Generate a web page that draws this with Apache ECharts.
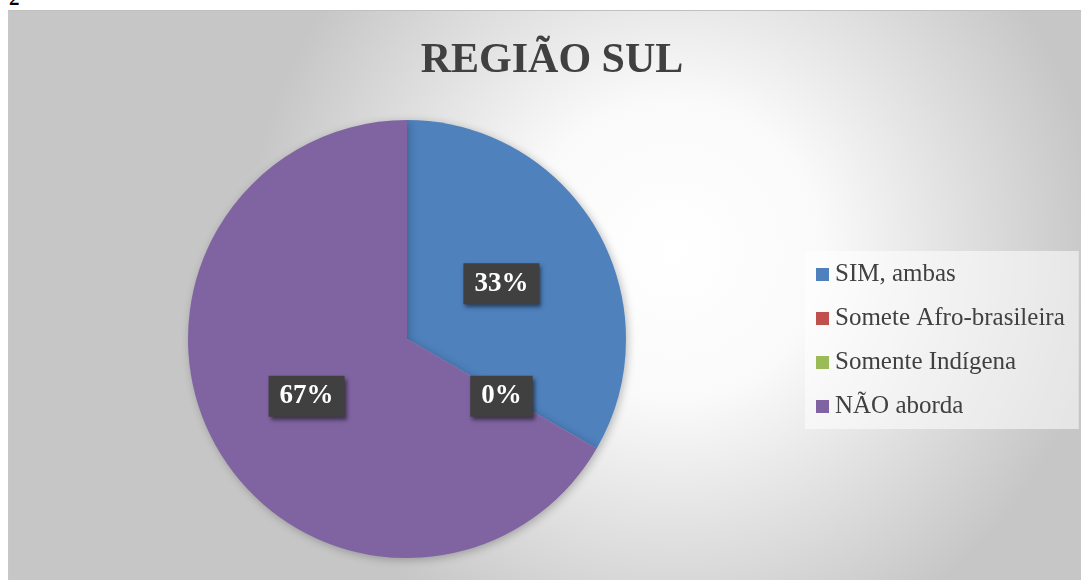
<!DOCTYPE html>
<html><head><meta charset="utf-8">
<script src="https://cdn.jsdelivr.net/npm/echarts@6/dist/echarts.min.js"></script>
<style>
html,body{margin:0;padding:0;background:#fff;width:1081px;height:580px;overflow:hidden;}
#frag{position:absolute;left:9px;top:-14px;font:bold 21px "Liberation Serif",serif;color:#000;}
#c{position:absolute;left:8px;top:10px;width:1073px;height:570px;border-top:1px solid #c0c0c0;border-left:1px solid #c8c8c8;box-sizing:border-box;}
</style></head>
<body>
<div id="frag">2</div>
<div id="c"></div>
<script>
const titleText = 'REGIÃO SUL';
const categories = ['SIM, ambas', 'Somete Afro-brasileira', 'Somente Indígena', 'NÃO aborda'];
const values = [1, 0, 0, 2];
const colors = ['#4F81BD', '#C0504D', '#9BBB59', '#8064A2'];

const chart = echarts.init(document.getElementById('c'));
chart.setOption({
  backgroundColor: {
    type: 'radial', x: 0.62, y: 0.42, r: 0.75,
    colorStops: [{offset: 0, color: '#ffffff'}, {offset: 0.35, color: '#fafafa'}, {offset: 1, color: '#c6c6c6'}]
  },
  color: colors,
  title: {
    text: titleText, left: 538, top: 24, textAlign: 'center',
    textStyle: {fontFamily: '"Liberation Serif", serif', fontWeight: 'bold', fontSize: 42, color: '#404040'}
  },
  legend: {
    orient: 'vertical', left: 796, top: 240, width: 280,
    data: categories, icon: 'rect', itemWidth: 13, itemHeight: 13, itemGap: 19,
    backgroundColor: 'rgba(255,255,255,0.55)', padding: [11, 14, 10, 11],
    textStyle: {fontFamily: '"Liberation Serif", serif', fontSize: 25, color: '#404040', padding: [0, 0, 0, 1]}
  },
  series: [{
    type: 'pie', center: [398, 328], radius: 219, startAngle: 90, clockwise: true,
    data: categories.map((n, i) => ({name: n, value: values[i]})),
    avoidLabelOverlap: false, minShowLabelAngle: 0,
    itemStyle: {shadowBlur: 8, shadowColor: 'rgba(0,0,0,0.25)', shadowOffsetX: 2, shadowOffsetY: 2},
    label: {
      show: true, position: 'inside', offset: [-3, 1],
      formatter: p => Math.round(p.percent) + '%',
      fontFamily: '"Liberation Serif", serif', fontWeight: 'bold', fontSize: 27, color: '#ffffff',
      backgroundColor: '#404040', padding: [8, 11, 6, 11],
      shadowBlur: 4, shadowColor: 'rgba(0,0,0,0.5)', shadowOffsetX: 2, shadowOffsetY: 3
    },
    labelLine: {show: false},
    emphasis: {disabled: true}
  }]
});
</script>
</body></html>
